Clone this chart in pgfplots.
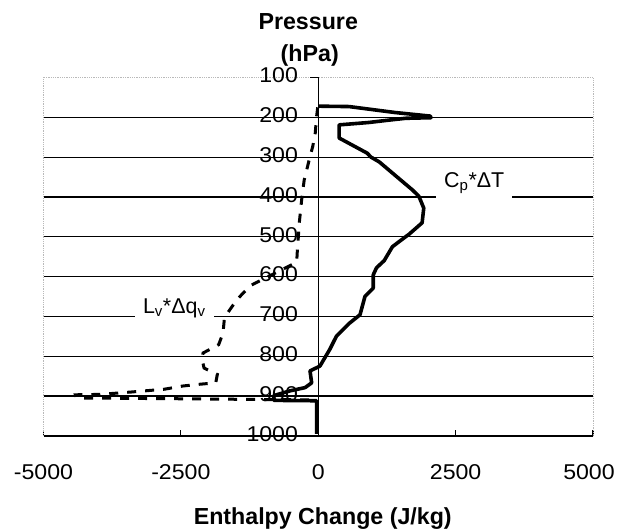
\documentclass[border=0pt]{standalone}
\usepackage{fontspec}
\setmainfont{Liberation Sans}
\newfontfamily\tickfam{Liberation Sans}[FakeStretch=1.08]
\usepackage{pgfplots}
\usepackage{pgfplotstable}
\pgfplotsset{compat=1.18}

% C_p * Delta T (solid)
\pgfplotstableread{
x p
0 172
560 173
1400 188
2040 197
2050 201
1590 202.5
1290 207
920 213
380 219
380 252
890 290
960 300
1110 312
1710 382
1830 398
1920 428
1890 465
1650 494
1590 500
1350 525
1200 560
1060 578
1000 596
1000 629
850 650
760 696
570 717
330 750
210 783
30 825
-150 837
-120 867
-240 879
-510 887
-810 899
-810 911
-30 912
-30 995
}\cpdata

% L_v * Delta q_v (dashed)
\pgfplotstableread{
x p
-10 175
-30 198
-55 240
-100 273
-165 307
-255 357
-295 398
-345 465
-362 500
-375 523
-393 564
-1238 623
-1480 658
-1673 696
-1710 708
-1733 742
-1812 771
-1933 780
-2096 792
-2114 809
-2077 830
-1836 846
-1866 867
-2197 871
-2468 875
-2800 883
-3400 890
-3970 896
-4420 897
-4400 905
-2500 907
-900 909
0 910
}\lvdata

\newcommand{\tickfont}{\tickfam\fontsize{21.5}{26}\selectfont}
\newcommand{\labfont}{\fontsize{23.3}{28}\selectfont\bfseries}
\newcommand{\annfont}{\fontsize{21.5}{26}\selectfont}

\begin{document}
\begin{tikzpicture}
\begin{axis}[
  scale only axis, width=549.5bp, height=358.3bp,
  xmin=-5000, xmax=5000, ymin=100, ymax=1000, y dir=reverse,
  axis line style={draw=gray!55, densely dotted, line width=0.8bp},
  xtick={-5000,-2500,0,2500,5000},
  xticklabels={-5000,-2500,0,2500,\hspace*{-8bp}5000},
  xtick pos=left, xtick align=inside,
  major tick length=6bp,
  every tick/.style={black, line width=1.2bp, solid},
  xticklabel style={font=\tickfont, anchor=base, yshift=-44.2bp},
  ytick={100,200,300,400,500,600,700,800,900,1000},
  yticklabels={100,200,300,400,500,600,700,800,900,1000},
  ytick pos=left,
  major y tick style={draw=none},
  yticklabel style={font=\tickfont, anchor=east, xshift=258bp, yshift=2bp},
  extra y ticks={200,300,400,500,600,700,800,900},
  extra y tick labels={},
  extra y tick style={grid=major, major grid style={black, line width=1.2bp, solid}},
  clip=false,
]
\node[fill=white, inner xsep=8bp, inner ysep=7bp, anchor=base, font=\annfont]
  at (axis cs:2839,376) {C\textsubscript{p}*ΔT};
\node[fill=white, inner xsep=8bp, inner ysep=7bp, anchor=base, font=\annfont]
  at (axis cs:-2620,692) {L\textsubscript{v}*Δq\textsubscript{v}};
\draw[black, line width=1.5bp] (axis cs:0,100) -- (axis cs:0,1000);
\draw[black, line width=1.2bp] (axis cs:0,100) -- (axis cs:-150,100);
\draw[black, line width=1.5bp] (axis cs:-5000,1000) -- (axis cs:5000,1000);
\addplot[black, line width=3bp, dash pattern=on 9bp off 9bp] table {\lvdata};
\addplot[black, line width=3.6bp, line join=round] table {\cpdata};
\end{axis}
\node[anchor=base, font=\labfont] at ([shift={(-10bp,47.5bp)}]current axis.north) {Pressure};
\node[anchor=base, font=\labfont] at ([shift={(-8.5bp,15.5bp)}]current axis.north) {(hPa)};
\node[anchor=base, font=\labfont] at ([shift={(4.5bp,-89.2bp)}]current axis.south) {Enthalpy Change (J/kg)};
\pgfresetboundingbox
\path[use as bounding box] ([shift={(-43.5bp,-93.2bp)}]current axis.south west) rectangle ([shift={(25bp,77.5bp)}]current axis.north east);
\end{tikzpicture}
\end{document}
